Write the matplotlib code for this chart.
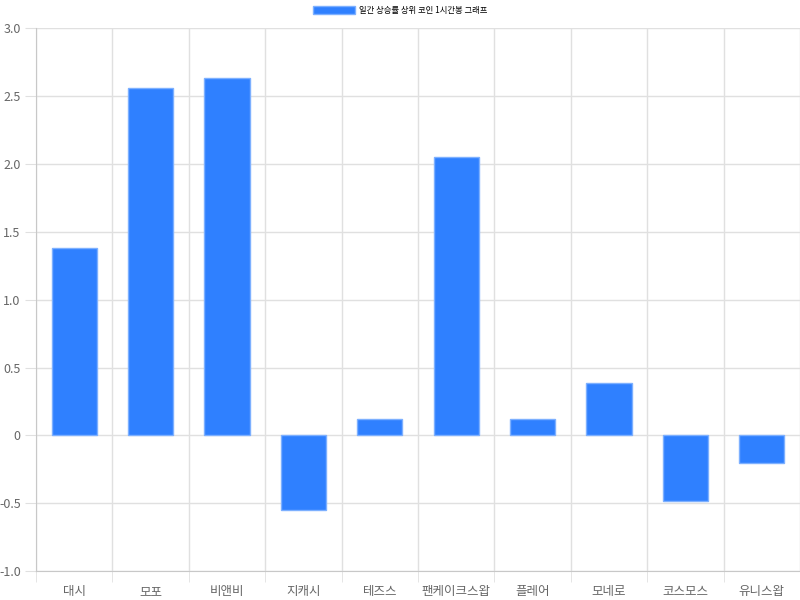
import numpy as np
import matplotlib
matplotlib.use("Agg")
import matplotlib.pyplot as plt
from matplotlib.patches import Patch

plt.rcParams['font.family'] = ['Noto Sans CJK KR', 'DejaVu Sans']

# data
coins = ["대시", "모포", "비앤비", "지캐시", "테즈스", "팬케이크스왑", "플레어", "모네로", "코스모스", "유니스왑"]
changes = [1.38, 2.56, 2.63, -0.55, 0.12, 2.05, 0.12, 0.39, -0.48, -0.20]
legend_label = "일간 상승률 상위 코인 1시간봉 그래프"
yticks = [-1.0, -0.5, 0, 0.5, 1.0, 1.5, 2.0, 2.5, 3.0]
ytick_labels = ["-1.0", "-0.5", "0", "0.5", "1.0", "1.5", "2.0", "2.5", "3.0"]

bar_color = "#2f80ff"
edge_color = "#7db0ff"
grid_color = "#e0e0e0"
text_color = "#666666"

fig = plt.figure(figsize=(8, 6), dpi=100)
ax = fig.add_axes([0.045, 0.048, 0.955, 0.905])

x = np.arange(len(coins))
ax.bar(x, changes, width=0.59, color=bar_color, edgecolor=edge_color, linewidth=1.0, zorder=3)

ax.set_xlim(-0.5, len(coins) - 0.5)
ax.set_ylim(-1.0, 3.0)
ax.set_yticks(yticks)
ax.set_yticklabels(ytick_labels)
ax.set_xticks(x)
ax.set_xticklabels(coins)
ax.set_xticks(np.arange(-0.5, len(coins), 1), minor=True)

ax.grid(axis='y', color=grid_color, linewidth=1, zorder=0)
ax.grid(axis='x', which='minor', color=grid_color, linewidth=1, zorder=0)
ax.tick_params(axis='x', which='major', length=0, pad=10, labelsize=9, labelcolor=text_color)
ax.tick_params(axis='x', which='minor', length=8, color=grid_color)
ax.tick_params(axis='y', length=8, color=grid_color, pad=3, labelsize=9, labelcolor=text_color)

for side in ['top', 'right']:
    ax.spines[side].set_visible(False)
ax.spines['left'].set_color("#c8c8c8")
ax.spines['bottom'].set_color("#c8c8c8")

handle = Patch(facecolor=bar_color, edgecolor=edge_color)
fig.legend([handle], [legend_label], loc='upper center', bbox_to_anchor=(0.5, 1.0),
           frameon=False, fontsize=6, handlelength=5, handleheight=1.2,
           handletextpad=0.5, borderaxespad=0.3)

fig.savefig("out.png", dpi=100)
